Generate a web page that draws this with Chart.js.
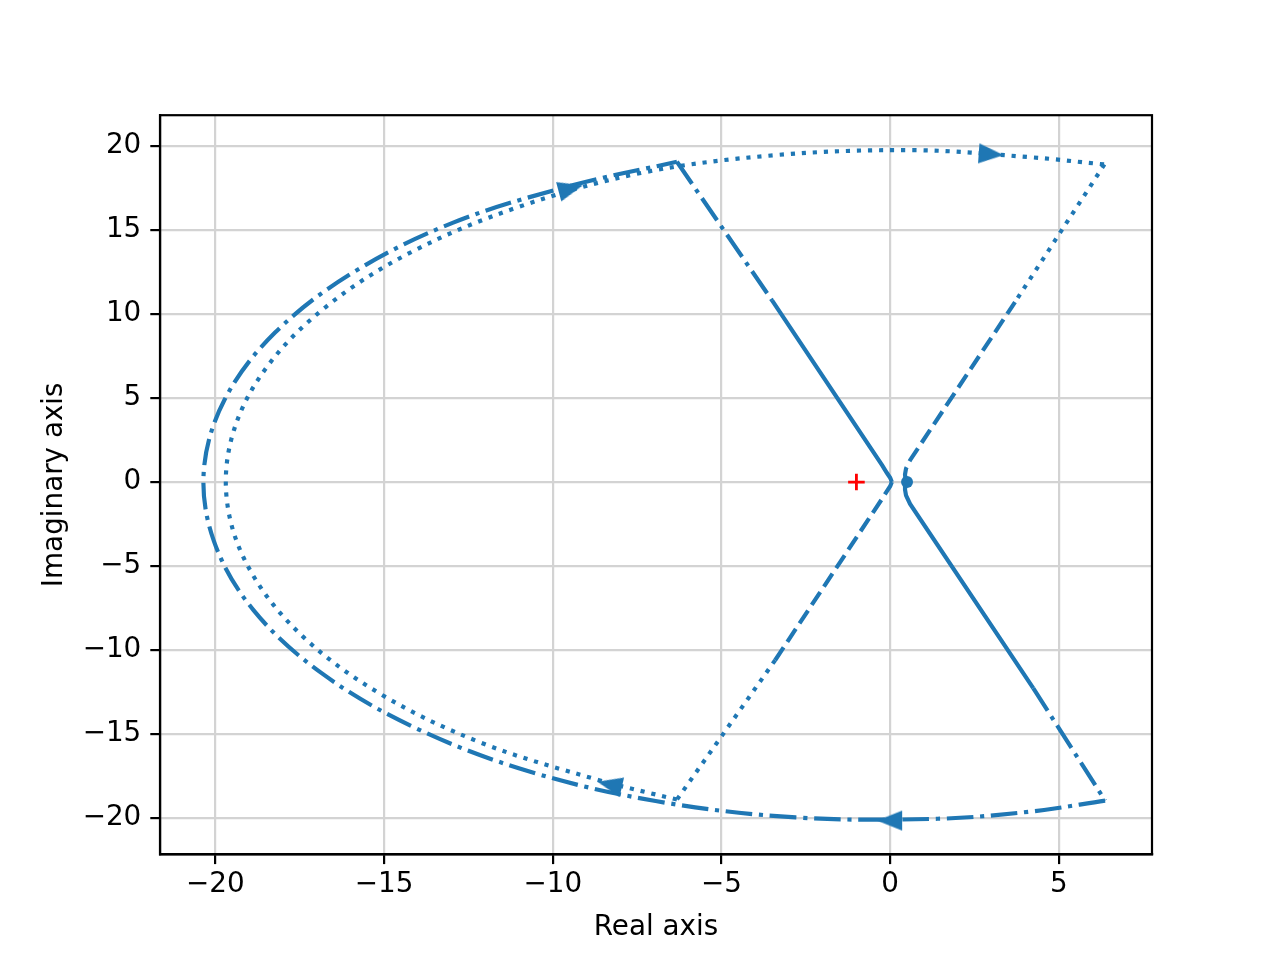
<!DOCTYPE html>
<html>
<head>
<meta charset="utf-8">
<script src="https://cdn.jsdelivr.net/npm/chart.js@4.4.0/dist/chart.umd.min.js"></script>
<style>
  body { margin: 0; background: #fff; }
</style>
</head>
<body>
<canvas id="myChart" width="1280" height="960"></canvas>
<script>
// ticks dos eixos
const xTicks = [-20, -15, -10, -5, 0, 5];
const yTicks = [-20, -15, -10, -5, 0, 5, 10, 15, 20];

// curva principal, parte sem escala (linha cheia)
const primaryStartX = [0.5, 0.45, 0.44, 0.47, 0.59, 4.24];
const primaryStartY = [0, -0.2, -0.45, -0.8, -1.3, -12.26];
const primaryEndX = [-3.5, -0.24, -0.1, 0.0, 0.05];
const primaryEndY = [10.8, 1.0, 0.55, 0.25, 0];

// curva principal, parte reescalada (traco-ponto): reta, arco, reta
const primaryScaledX = [4.24, 6.37, 4.17, 1.40, -2.80, -6.91, -10.74, -14.10, -16.85, -18.87, -20.04, -20.34, -19.72, -18.23, -15.93, -12.95, -9.42, -6.32, -3.5];
const primaryScaledY = [-12.26, -18.95, -19.60, -20.03, -19.95, -18.99, -17.19, -14.60, -11.37, -7.62, -3.53, 0.71, 4.92, 8.89, 12.45, 15.43, 17.65, 19.05, 10.8];

// curva espelhada, parte sem escala (tracejada)
const mirrorStartX = [0.5, 0.45, 0.44, 0.47, 0.59, 3.7];
const mirrorStartY = [0, 0.2, 0.45, 0.8, 1.3, 10.7];
const mirrorEndX = [-3.41, -0.24, -0.1, 0.0, 0.05];
const mirrorEndY = [-10.6, -1.0, -0.55, -0.25, 0];

// curva espelhada, parte reescalada (pontilhada)
const mirrorScaledX = [-3.41, -6.32, -8.65, -12.12, -15.07, -17.38, -18.92, -19.64, -19.50, -18.51, -16.71, -14.18, -11.03, -7.39, -3.43, 0.69, 4.11, 6.35, 3.7];
const mirrorScaledY = [-10.6, -18.89, -17.72, -15.51, -12.65, -9.24, -5.42, -1.37, 2.74, 6.74, 10.44, 13.69, 16.35, 18.38, 19.44, 19.74, 19.33, 18.89, 10.7];

// setas de direcao
const arrowX = [2.98, -9.48, -8.3, 0.0];
const arrowY = [19.5, 17.45, -18.0, -20.14];
const arrowAngles = [94, 75, 283, 270];

// ponto critico e marcador de inicio
const critX = [-1];
const critY = [0];
const startX = [0.5];
const startY = [0];

const azul = '#1f77b4';
const fonte = { family: 'DejaVu Sans', size: 27.8, lineHeight: 1.2 };
const lw = 4.17;
const tracejado = [15.4, 6.7];
const tracoPonto = [26.7, 6.7, 4.17, 6.7];
const pontilhado = [4.17, 6.9];

// monta lista de pontos {x, y} entre dois indices
function pontos(xs, ys, ini, fim) {
    let lista = [];
    for (let i = ini; i <= fim; i++) {
        lista.push({ x: xs[i], y: ys[i] });
    }
    return lista;
}

const linha = (data, dash, tension) => ({
    data: data,
    showLine: true,
    borderColor: azul,
    borderWidth: lw,
    borderDash: dash,
    pointRadius: 0,
    tension: tension || 0,
    fill: false
});

// desenho da seta (apontando para cima, rotacionada por ponto)
const seta = document.createElement('canvas');
seta.width = 28;
seta.height = 28;
const sctx = seta.getContext('2d');
sctx.fillStyle = azul;
sctx.beginPath();
sctx.moveTo(14, 1);
sctx.lineTo(24, 26);
sctx.lineTo(4, 26);
sctx.closePath();
sctx.fill();

const fmt = (v) => v < 0 ? '\u2212' + Math.abs(v) : String(v);

// moldura em volta da area do grafico
const moldura = {
    id: 'moldura',
    afterDatasetsDraw(chart) {
        const { ctx, chartArea: a } = chart;
        ctx.save();
        ctx.strokeStyle = '#000';
        ctx.lineWidth = 2.2;
        ctx.strokeRect(a.left, a.top, a.right - a.left, a.bottom - a.top);
        ctx.restore();
    }
};

const nP = primaryScaledX.length;
const nM = mirrorScaledX.length;

const datasets = [
    {
        data: pontos(startX, startY, 0, 0),
        pointStyle: 'circle', pointRadius: 6, backgroundColor: azul, borderWidth: 0
    },
    {
        data: pontos(critX, critY, 0, 0),
        pointStyle: 'cross', pointRadius: 8.3, borderColor: '#ff0000', borderWidth: 2.8
    },
    {
        data: pontos(arrowX, arrowY, 0, arrowX.length - 1),
        pointStyle: seta, pointRadius: 14, rotation: arrowAngles
    },
    linha(pontos(primaryStartX, primaryStartY, 0, primaryStartX.length - 1), []),
    linha(pontos(primaryEndX, primaryEndY, 0, primaryEndX.length - 1), []),
    linha(pontos(primaryScaledX, primaryScaledY, 0, 1), tracoPonto),
    linha(pontos(primaryScaledX, primaryScaledY, 1, nP - 2), tracoPonto, 0.35),
    linha(pontos(primaryScaledX, primaryScaledY, nP - 2, nP - 1), tracoPonto),
    linha(pontos(mirrorStartX, mirrorStartY, 0, mirrorStartX.length - 1), tracejado),
    linha(pontos(mirrorEndX, mirrorEndY, 0, mirrorEndX.length - 1), tracejado),
    linha(pontos(mirrorScaledX, mirrorScaledY, 0, 1), pontilhado),
    linha(pontos(mirrorScaledX, mirrorScaledY, 1, nM - 2), pontilhado, 0.35),
    linha(pontos(mirrorScaledX, mirrorScaledY, nM - 2, nM - 1), pontilhado)
];

const eixo = (min, max, valores, titulo) => ({
    type: 'linear',
    min: min,
    max: max,
    afterBuildTicks: (s) => { s.ticks = valores.map(v => ({ value: v })); },
    ticks: { font: fonte, color: '#000', padding: 4, maxRotation: 0, autoSkip: false, callback: (v) => fmt(v) },
    grid: { color: '#d3d3d3', lineWidth: 2.2, tickColor: '#000', tickWidth: 2.2, tickLength: 9.7 },
    border: { color: '#000', width: 2.2 },
    title: { display: true, text: titulo, font: fonte, color: '#000' }
});

const escalaX = eixo(-21.64, 7.76, xTicks, 'Real axis');
escalaX.afterFit = (s) => { s.height = 105.6; };
escalaX.title.padding = { top: 0, bottom: 16 };

const escalaY = eixo(-22.15, 21.82, yTicks, 'Imaginary axis');
escalaY.afterFit = (s) => { s.width = 160; };
escalaY.ticks.padding = 9;
escalaY.title.padding = { top: 38, bottom: 0 };

new Chart(document.getElementById('myChart'), {
    type: 'scatter',
    data: { datasets: datasets },
    options: {
        responsive: false,
        devicePixelRatio: 1,
        animation: false,
        events: [],
        layout: { padding: { top: 115.2, right: 128, bottom: 0, left: 0 } },
        plugins: { legend: { display: false }, tooltip: { enabled: false } },
        scales: { x: escalaX, y: escalaY }
    },
    plugins: [moldura]
});
</script>
</body>
</html>
